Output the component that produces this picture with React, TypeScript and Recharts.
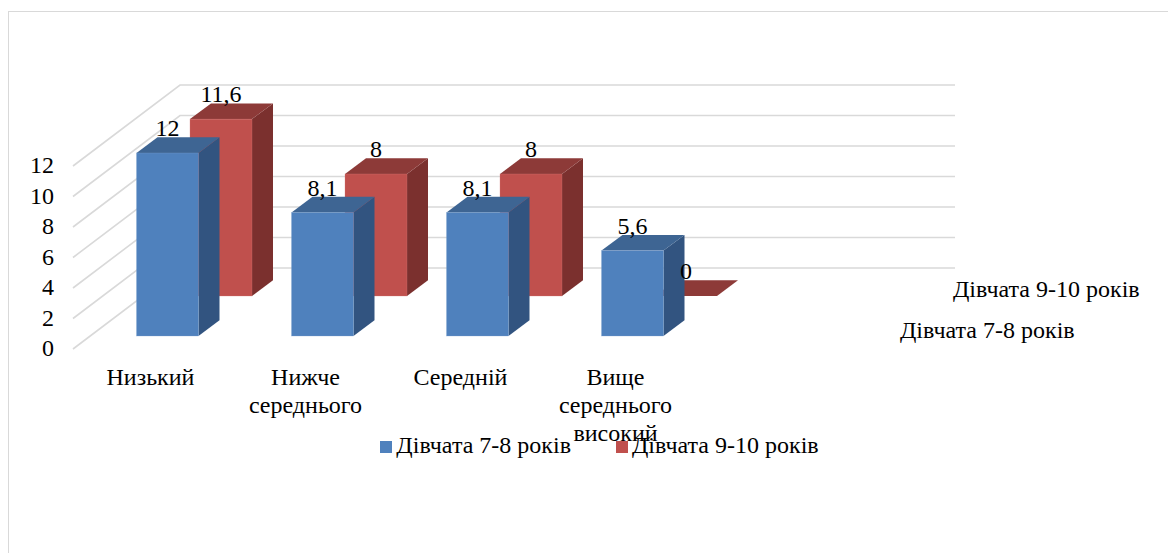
import { BarChart, Bar, XAxis, YAxis, CartesianGrid, Legend, LabelList } from "recharts";

const categories = ["Низький", "Нижче середнього", "Середній", "Вище середнього високий", ""];
const girls78 = [12, 8.1, 8.1, 5.6, null];
const girls910 = [11.6, 8, 8, 0, null];
const yTicks = [0, 2, 4, 6, 8, 10, 12];
const name78 = "Дівчата 7-8 років";
const name910 = "Дівчата 9-10 років";

const data = categories.map((name, i) => ({
  name,
  girls78: girls78[i],
  girls910: girls910[i],
}));

const FONT = "'Liberation Serif', 'Times New Roman', serif";
const FONT_SIZE = 24;
const BAR_W = 62;

// fake 3D: how far the floor recedes, and how deep each box is
const WALL = { dx: 107, dy: -81 };
const BOX = { dx: 21, dy: -15.7 };
const ROW_78 = { dx: 16.5, dy: -13 };
const ROW_910 = { dx: 70, dy: -53 };

const BLUE = { front: "#4f81bd", top: "#3e6593", side: "#325480", edge: "#7ea3d0" };
const RED = { front: "#c0504d", top: "#8d3a38", side: "#7b302e", edge: "#d47c79" };

function makeBox(row: { dx: number; dy: number }, c: typeof BLUE, key: "girls78" | "girls910") {
  return function Box(props: any) {
    if (props.payload?.[key] == null) return null;
    const x = props.x + row.dx;
    const y = props.y + row.dy;
    const w = props.width;
    const h = props.height;
    const { dx, dy } = BOX;
    return (
      <g>
        <path
          d={`M${x + w} ${y}L${x + w + dx} ${y + dy}V${y + h + dy}L${x + w} ${y + h}Z`}
          fill={c.side}
        />
        <path
          d={`M${x} ${y}L${x + dx} ${y + dy}H${x + w + dx}L${x + w} ${y}Z`}
          fill={c.top}
        />
        {h > 0 && (
          <rect
            x={x}
            y={y}
            width={w}
            height={h}
            fill={c.front}
            stroke={c.edge}
            strokeWidth={0.5}
            strokeOpacity={0.6}
          />
        )}
      </g>
    );
  };
}

function makeValueLabel(row: { dx: number; dy: number }) {
  return function ValueLabel(props: any) {
    if (props.value == null) return null;
    return (
      <text
        x={props.x + row.dx + props.width / 2}
        y={props.y + row.dy + BOX.dy - 1}
        textAnchor="middle"
        fontFamily={FONT}
        fontSize={FONT_SIZE}
        fill="#000"
      >
        {String(props.value).replace(".", ",")}
      </text>
    );
  };
}

// one line in the front plane's left edge, then along the back wall
function gridLine(props: any) {
  const { x1, x2, y1 } = props;
  return (
    <path
      key={props.key ?? props.index}
      d={`M${x1} ${y1}L${x1 + WALL.dx} ${y1 + WALL.dy}H${x2 + WALL.dx}`}
      fill="none"
      stroke="#d9d9d9"
      strokeWidth={1.6}
    />
  );
}

function CategoryTick(props: any) {
  const words = String(props.payload.value).split(" ");
  return (
    <text x={props.x} y={385} textAnchor="middle" fontFamily={FONT} fontSize={FONT_SIZE} fill="#000">
      {words.map((w, i) => (
        <tspan key={i} x={props.x} dy={i === 0 ? 0 : 28}>
          {w}
        </tspan>
      ))}
    </text>
  );
}

export default function App() {
  return (
    <div style={{ position: "absolute", left: 0, top: 0, width: 1168, height: 553, background: "#fff", overflow: "hidden" }}>
      <div
        style={{
          position: "absolute",
          left: 8,
          top: 11,
          width: 1160,
          height: 542,
          borderTop: "1.5px solid #d9d9d9",
          borderLeft: "1.5px solid #d9d9d9",
        }}
      />
      <div style={{ position: "absolute", left: 0, top: 0 }}>
        <BarChart
          width={1168}
          height={553}
          data={data}
          margin={{ top: 166, right: 320, bottom: 0, left: 0 }}
          barSize={BAR_W}
          barGap={-BAR_W}
          style={{ fontFamily: FONT }}
        >
          <CartesianGrid vertical={false} horizontal={gridLine} />
          <XAxis
            dataKey="name"
            interval={0}
            height={204}
            axisLine={false}
            tickLine={false}
            tick={CategoryTick}
          />
          <YAxis
            width={73}
            domain={[0, 12]}
            ticks={yTicks}
            interval={0}
            axisLine={false}
            tickLine={false}
            tickMargin={13}
            tick={{ fontSize: FONT_SIZE, fill: "#000", fontFamily: FONT, dy: -1.5 }}
          />
          <Legend
            iconType="square"
            iconSize={12}
            align="center"
            verticalAlign="middle"
            wrapperStyle={{ position: "absolute", left: 362, top: 432, width: 520, fontSize: FONT_SIZE, fontFamily: FONT, textAlign: "left" }}
            formatter={(value: string) => (
              <span style={{ color: "#000", marginRight: 35 }}>{value}</span>
            )}
          />
          <Bar
            dataKey="girls910"
            name={name910}
            fill={RED.front}
            isAnimationActive={false}
            shape={makeBox(ROW_910, RED, "girls910")}
          >
            <LabelList dataKey="girls910" content={makeValueLabel(ROW_910)} />
          </Bar>
          <Bar
            dataKey="girls78"
            name={name78}
            fill={BLUE.front}
            isAnimationActive={false}
            shape={makeBox(ROW_78, BLUE, "girls78")}
          >
            <LabelList dataKey="girls78" content={makeValueLabel(ROW_78)} />
          </Bar>
          <text x={953} y={297} fontFamily={FONT} fontSize={FONT_SIZE} fill="#000">
            {name910}
          </text>
          <text x={900} y={338} fontFamily={FONT} fontSize={FONT_SIZE} fill="#000">
            {name78}
          </text>
        </BarChart>
      </div>
    </div>
  );
}
